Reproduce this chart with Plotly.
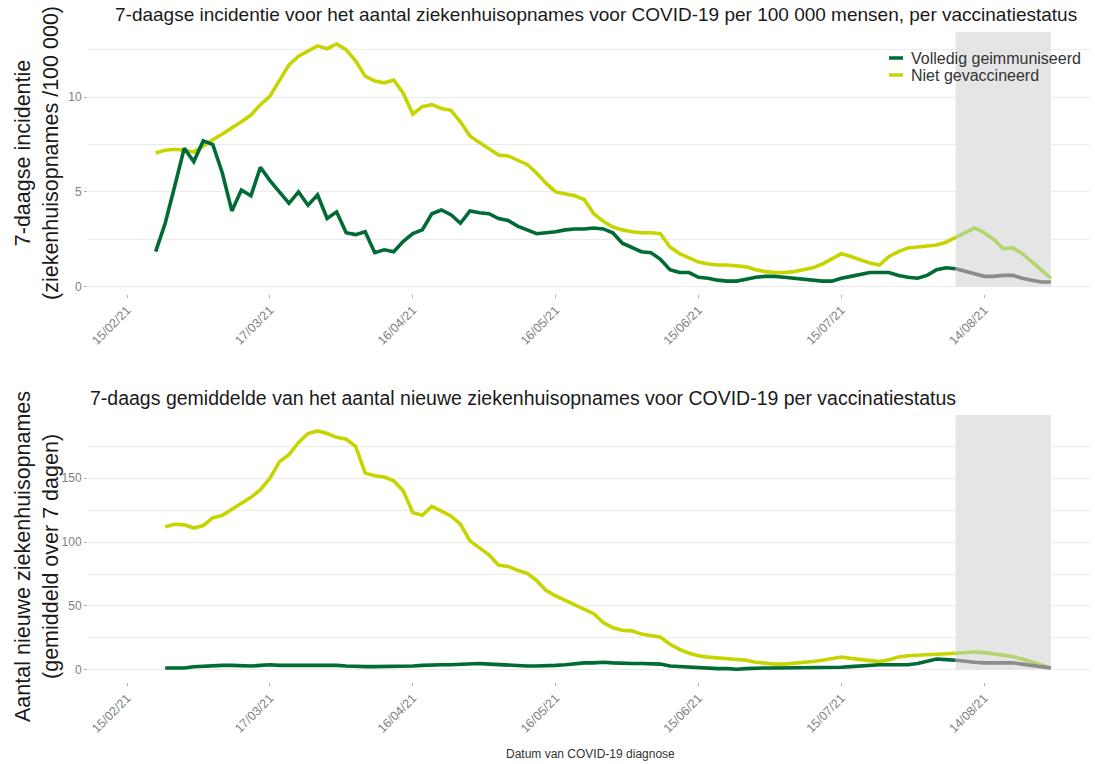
import pandas as pd
import plotly.graph_objects as go

# ---------------- data ----------------
dates = pd.date_range("2021-02-21", "2021-08-28", freq="2D")
cutoff = pd.Timestamp("2021-08-08")   # start of incomplete (grey) period

# 7-day incidence per 100 000 (top panel)
inc_unvacc = [7.05, 7.2, 7.25, 7.2, 7.1, 7.45, 7.75, 8.05, 8.35, 8.7,
              9.05, 9.6, 10.05, 10.9, 11.7, 12.15, 12.4, 12.7, 12.55, 12.8,
              12.5, 11.9, 11.1, 10.85, 10.75, 10.9, 10.2, 9.1, 9.5, 9.6,
              9.4, 9.3, 8.7, 7.95, 7.6, 7.25, 6.95, 6.9, 6.7, 6.45,
              6.0, 5.45, 5.0, 4.9, 4.8, 4.6, 3.85, 3.45, 3.15, 3.0,
              2.9, 2.85, 2.85, 2.8, 2.1, 1.75, 1.5, 1.3, 1.2, 1.15,
              1.15, 1.1, 1.05, 0.9, 0.8, 0.75, 0.75, 0.8, 0.9, 1.0,
              1.2, 1.5, 1.75, 1.6, 1.4, 1.25, 1.15, 1.6, 1.85, 2.05,
              2.1, 2.15, 2.2, 2.35, 2.6, 2.85, 3.1, 2.85, 2.5, 2.0,
              2.05, 1.75, 1.3, 0.85, 0.45]
inc_full = [1.85, 3.35, 5.3, 7.3, 6.6, 7.7, 7.5, 6.0, 4.0, 5.1,
            4.8, 6.3, 5.6, 5.0, 4.4, 5.0, 4.3, 4.85, 3.6, 3.95,
            2.85, 2.75, 2.9, 1.8, 1.95, 1.85, 2.4, 2.8, 3.0, 3.85,
            4.05, 3.8, 3.35, 4.0, 3.9, 3.85, 3.6, 3.5, 3.2, 3.0,
            2.8, 2.85, 2.9, 3.0, 3.05, 3.05, 3.1, 3.05, 2.85, 2.3,
            2.05, 1.85, 1.8, 1.45, 0.9, 0.75, 0.75, 0.5, 0.45, 0.35,
            0.3, 0.3, 0.4, 0.5, 0.55, 0.55, 0.5, 0.45, 0.4, 0.35,
            0.3, 0.3, 0.45, 0.55, 0.65, 0.75, 0.75, 0.75, 0.6, 0.5,
            0.45, 0.6, 0.9, 1.0, 0.95, 0.8, 0.65, 0.55, 0.55, 0.6,
            0.6, 0.45, 0.35, 0.25, 0.25]

# 7-day mean of new hospital admissions (bottom panel)
adm_unvacc = [None, 112, 114, 113.5, 111, 113, 119, 121, 125.5, 130,
              135, 141, 150, 163, 168.5, 178, 185, 187, 185, 182,
              180.5, 175, 154, 152, 151, 148, 140, 123, 121, 128,
              124, 120.5, 114, 101, 95.5, 90, 82, 81, 78, 75.5,
              70, 62, 58, 54.5, 51, 48, 44, 37, 33, 31,
              30.5, 28, 26.5, 25.5, 20, 16, 13, 11, 10, 9.5,
              9, 8.5, 7.5, 6, 5, 4.5, 4.5, 5, 5.5, 6.5,
              7.5, 9, 10, 9, 8, 7, 6.5, 8, 10, 11,
              11.5, 12, 12.5, 12.5, 13, 13.5, 14, 13.5, 12.5, 11,
              10.5, 8.5, 6, 3.5, 1.5]
adm_full = [None, 1.5, 1.5, 1.5, 2.5, 3, 3.5, 3.5, 3.5, 3,
            3, 3.5, 4, 3.5, 3.5, 3.5, 3.5, 4, 4, 3.5,
            3, 2.5, 2.5, 2.5, 2.5, 2.5, 2.5, 3, 3.5, 4,
            4, 4, 4.5, 5, 5, 4.5, 4, 3.5, 3, 3,
            3, 3, 3.5, 4, 5, 5.5, 5.5, 6, 5.5, 5,
            5, 5, 5, 4.5, 3, 2.5, 2, 1.5, 1.5, 1,
            1, 0.5, 1, 1.5, 1.5, 1.5, 1.5, 1.5, 1.5, 1.5,
            1.5, 1.5, 2, 2.5, 3, 4, 4, 4, 4, 4,
            5, 7, 8.5, 8, 7.5, 6.5, 6, 5.5, 5.5, 5.5,
            5.5, 4.5, 3.5, 2.5, 1.5]

tick_dates = ["2021-02-15", "2021-03-17", "2021-04-16", "2021-05-16",
              "2021-06-15", "2021-07-15", "2021-08-14"]
tick_labels = ["15/02/21", "17/03/21", "16/04/21", "16/05/21",
               "15/06/21", "15/07/21", "14/08/21"]

series_names = ["Volledig geimmuniseerd", "Niet gevaccineerd"]

# ---------------- styles ----------------
W, H = 1095, 764
C_FULL = "#006B35"
C_UNV = "#C6D500"
C_FULL_FADE = "#8C8C8C"
C_UNV_FADE = "#B3D46E"
GRID = "#EBEBEB"
TICKC = "#7F7F7F"
FONT = "Liberation Sans, Arial, sans-serif"
LW = 3.6

def px_x(p):
    return p / W

def px_y(p):
    return 1 - p / H

fig = go.Figure()

split = list(dates).index(cutoff)

def add_series(vals, color, fade, xa, ya):
    d_main = dates[:split + 1]
    d_fade = dates[split:]
    fig.add_trace(go.Scatter(x=d_main, y=vals[:split + 1], mode="lines",
                             line=dict(color=color, width=LW),
                             xaxis=xa, yaxis=ya, showlegend=False,
                             connectgaps=False, hoverinfo="skip"))
    fig.add_trace(go.Scatter(x=d_fade, y=vals[split:], mode="lines",
                             line=dict(color=fade, width=LW),
                             xaxis=xa, yaxis=ya, showlegend=False,
                             hoverinfo="skip"))

add_series(inc_unvacc, C_UNV, C_UNV_FADE, "x", "y")
add_series(inc_full, C_FULL, C_FULL_FADE, "x", "y")
add_series(adm_unvacc, C_UNV, C_UNV_FADE, "x2", "y2")
add_series(adm_full, C_FULL, C_FULL_FADE, "x2", "y2")

xrange = ["2021-02-06 19:00", "2021-09-05 05:00"]
xdom = [px_x(88), px_x(1090)]
top_rng = [-0.38, 13.43]
bot_rng = [-9.5, 199.5]

xcommon = dict(range=xrange, domain=xdom, showgrid=False, zeroline=False,
               showline=False, tickmode="array", tickvals=tick_dates,
               ticktext=tick_labels, tickangle=-45, ticks="outside",
               ticklen=3, tickcolor="#B0B0B0", automargin=False,
               tickfont=dict(family=FONT, size=12.5, color=TICKC))
ycommon = dict(showline=False, zeroline=False, ticks="outside", ticklen=3,
               tickcolor="#B0B0B0", gridcolor=GRID, gridwidth=1,
               automargin=False,
               tickfont=dict(family=FONT, size=12, color=TICKC))

fig.update_layout(
    width=W, height=H,
    margin=dict(l=0, r=0, t=0, b=0),
    paper_bgcolor="white", plot_bgcolor="white",
    xaxis=dict(**xcommon, anchor="y"),
    xaxis2=dict(**xcommon, anchor="y2"),
    yaxis=dict(**ycommon, domain=[px_y(294), px_y(32)], range=top_rng,
               anchor="x", tickvals=[0, 5, 10],
               minor=dict(showgrid=True, tickvals=[2.5, 7.5, 12.5],
                          gridcolor=GRID, gridwidth=1, ticks="")),
    yaxis2=dict(**ycommon, domain=[px_y(682), px_y(415)], range=bot_rng,
                anchor="x2", tickvals=[0, 50, 100, 150],
                minor=dict(showgrid=True, tickvals=[25, 75, 125, 175],
                           gridcolor=GRID, gridwidth=1, ticks="")),
    showlegend=False,
)

# grey "incomplete data" rectangles
for xr, yr, top in (("x", "y", top_rng[1]), ("x2", "y2", bot_rng[1])):
    fig.add_shape(type="rect", xref=xr, yref=yr, x0=cutoff,
                  x1=dates[-1], y0=0, y1=top, fillcolor="#E5E5E5",
                  line=dict(width=0), layer="between")

ann = []
ann.append(dict(text="7-daagse incidentie voor het aantal ziekenhuisopnames voor COVID-19 per 100 000 mensen, per vaccinatiestatus",
                x=px_x(113), y=px_y(15), xanchor="left", yanchor="middle",
                font=dict(family=FONT, size=19, color="#1A1A1A")))
ann.append(dict(text="7-daags gemiddelde van het aantal nieuwe ziekenhuisopnames voor COVID-19 per vaccinatiestatus",
                x=px_x(88), y=px_y(398), xanchor="left", yanchor="middle",
                font=dict(family=FONT, size=19.5, color="#1A1A1A")))
ann.append(dict(text="7-daagse incidentie<br>(ziekenhuisopnames /100 000)",
                x=px_x(37), y=px_y(153), textangle=-90, xanchor="center",
                yanchor="middle", font=dict(family=FONT, size=21.5, color="#1A1A1A")))
ann.append(dict(text="Aantal nieuwe ziekenhuisopnames<br>(gemiddeld over 7 dagen)",
                x=px_x(37), y=px_y(557), textangle=-90, xanchor="center",
                yanchor="middle", font=dict(family=FONT, size=21.5, color="#1A1A1A")))
ann.append(dict(text="Datum van COVID-19 diagnose", x=px_x(590), y=px_y(754),
                xanchor="center", yanchor="middle",
                font=dict(family=FONT, size=12, color="#333333")))

# manual legend
leg_y = [58, 75]
leg_col = [C_FULL, C_UNV]
for name, yy, col in zip(series_names, leg_y, leg_col):
    fig.add_shape(type="line", xref="paper", yref="paper",
                  x0=px_x(889), x1=px_x(903), y0=px_y(yy), y1=px_y(yy),
                  line=dict(color=col, width=3.5))
    ann.append(dict(text=name, x=px_x(909), y=px_y(yy), xanchor="left",
                    yanchor="middle",
                    font=dict(family=FONT, size=16, color="#333333")))

for a in ann:
    a.update(xref="paper", yref="paper", showarrow=False)
fig.update_layout(annotations=ann)

fig.write_html("out.html",
               config={"displayModeBar": False, "staticPlot": True},
               post_script="document.body.style.margin='0';"
                           "document.body.style.overflow='hidden';")
